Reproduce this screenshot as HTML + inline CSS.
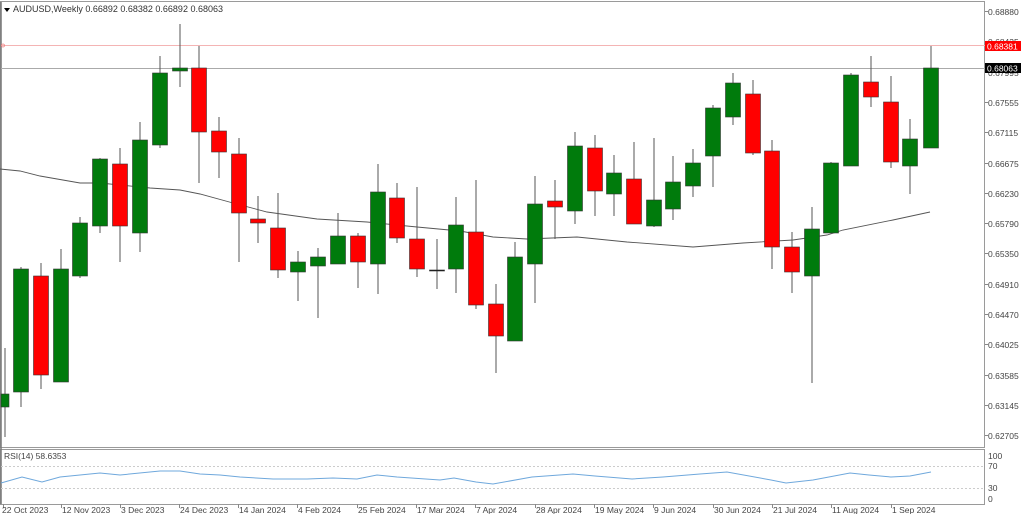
<!DOCTYPE html>
<html><head><meta charset="utf-8"><style>
html,body{margin:0;padding:0;background:#fff;}
svg{display:block;font-family:"Liberation Sans",Tahoma,sans-serif;}
</style></head><body>
<svg width="1024" height="514" viewBox="0 0 1024 514" xmlns="http://www.w3.org/2000/svg">
<rect width="1024" height="514" fill="#fff"/>
<rect x="0.5" y="1.5" width="984" height="446" fill="none" stroke="#9a9a9a" stroke-width="1"/>
<rect x="0.5" y="449.5" width="984" height="55" fill="none" stroke="#9a9a9a" stroke-width="1"/>
<line x1="1" y1="2" x2="1" y2="504" stroke="#777" stroke-width="1.5"/>
<path d="M4 8 L10 8 L7 12 Z" fill="#000"/>
<text x="13" y="12" font-size="9" fill="#333">AUDUSD,Weekly  0.66892 0.68382 0.66892 0.68063</text>
<line x1="1" y1="45.5" x2="985" y2="45.5" stroke="#f4b4b4" stroke-width="1"/>
<circle cx="3" cy="45.5" r="1.5" fill="none" stroke="#f08080" stroke-width="0.7"/>
<line x1="1" y1="68.5" x2="985" y2="68.5" stroke="#aaa" stroke-width="1"/>
<polyline fill="none" stroke="#555" stroke-width="0.9" points="0,169 20,171 40,176 80,183 100,183 150,188 180,190 200,194 233,203 267,212 317,219 367,222 417,227 460,231 493,237 527,239 577,237 627,242 693,247 743,243 793,240 827,235 843,230 893,220 930,212"/>
<g stroke="#555" stroke-width="1">
<line x1="5" y1="348" x2="5" y2="437"/>
<line x1="21" y1="267" x2="21" y2="407"/>
<line x1="41" y1="263" x2="41" y2="389"/>
<line x1="61" y1="249" x2="61" y2="382"/>
<line x1="80" y1="217" x2="80" y2="278"/>
<line x1="100" y1="158" x2="100" y2="233"/>
<line x1="120" y1="148" x2="120" y2="262"/>
<line x1="140" y1="122" x2="140" y2="252"/>
<line x1="160" y1="56" x2="160" y2="148"/>
<line x1="180" y1="24" x2="180" y2="87"/>
<line x1="199" y1="46" x2="199" y2="183"/>
<line x1="219" y1="117" x2="219" y2="178"/>
<line x1="239" y1="138" x2="239" y2="262"/>
<line x1="258" y1="196" x2="258" y2="243"/>
<line x1="278" y1="193" x2="278" y2="278"/>
<line x1="298" y1="251" x2="298" y2="301"/>
<line x1="318" y1="248" x2="318" y2="318"/>
<line x1="338" y1="213" x2="338" y2="264"/>
<line x1="358" y1="233" x2="358" y2="288"/>
<line x1="378" y1="164" x2="378" y2="294"/>
<line x1="397" y1="183" x2="397" y2="243"/>
<line x1="417" y1="187" x2="417" y2="277"/>
<line x1="437" y1="239" x2="437" y2="289"/>
<line x1="456" y1="197" x2="456" y2="293"/>
<line x1="476" y1="180" x2="476" y2="309"/>
<line x1="496" y1="284" x2="496" y2="373"/>
<line x1="515" y1="242" x2="515" y2="341"/>
<line x1="535" y1="176" x2="535" y2="303"/>
<line x1="555" y1="180" x2="555" y2="239"/>
<line x1="575" y1="132" x2="575" y2="224"/>
<line x1="595" y1="135" x2="595" y2="216"/>
<line x1="614" y1="155" x2="614" y2="216"/>
<line x1="634" y1="142" x2="634" y2="224"/>
<line x1="654" y1="138" x2="654" y2="227"/>
<line x1="673" y1="156" x2="673" y2="220"/>
<line x1="693" y1="149" x2="693" y2="197"/>
<line x1="713" y1="105" x2="713" y2="187"/>
<line x1="733" y1="73" x2="733" y2="125"/>
<line x1="753" y1="80" x2="753" y2="155"/>
<line x1="772" y1="140" x2="772" y2="269"/>
<line x1="792" y1="232" x2="792" y2="293"/>
<line x1="812" y1="207" x2="812" y2="383"/>
<line x1="831" y1="162" x2="831" y2="233"/>
<line x1="851" y1="73" x2="851" y2="166"/>
<line x1="871" y1="56" x2="871" y2="107"/>
<line x1="891" y1="76" x2="891" y2="168"/>
<line x1="910" y1="119" x2="910" y2="194"/>
<line x1="931" y1="46" x2="931" y2="148"/>
</g>
<g stroke="#333" stroke-width="0.6">
<rect x="1" y="394" width="8" height="13" fill="#007b0c"/>
<rect x="13.5" y="269" width="15" height="123" fill="#007b0c"/>
<rect x="33.5" y="276" width="15" height="99" fill="#ff0000"/>
<rect x="53.5" y="269" width="15" height="113" fill="#007b0c"/>
<rect x="72.5" y="223" width="15" height="53" fill="#007b0c"/>
<rect x="92.5" y="159" width="15" height="67" fill="#007b0c"/>
<rect x="112.5" y="164" width="15" height="62" fill="#ff0000"/>
<rect x="132.5" y="140" width="15" height="93" fill="#007b0c"/>
<rect x="152.5" y="73" width="15" height="72" fill="#007b0c"/>
<rect x="172.5" y="68" width="15" height="3" fill="#007b0c"/>
<rect x="191.5" y="68" width="15" height="64" fill="#ff0000"/>
<rect x="211.5" y="131" width="15" height="21" fill="#ff0000"/>
<rect x="231.5" y="154" width="15" height="59" fill="#ff0000"/>
<rect x="250.5" y="219" width="15" height="4" fill="#ff0000"/>
<rect x="270.5" y="228" width="15" height="42" fill="#ff0000"/>
<rect x="290.5" y="262" width="15" height="10" fill="#007b0c"/>
<rect x="310.5" y="257" width="15" height="9" fill="#007b0c"/>
<rect x="330.5" y="236" width="15" height="28" fill="#007b0c"/>
<rect x="350.5" y="236" width="15" height="26" fill="#ff0000"/>
<rect x="370.5" y="192" width="15" height="72" fill="#007b0c"/>
<rect x="389.5" y="198" width="15" height="40" fill="#ff0000"/>
<rect x="409.5" y="239" width="15" height="30" fill="#ff0000"/>
<rect x="429.5" y="270" width="15" height="1" fill="#000"/>
<rect x="448.5" y="225" width="15" height="44" fill="#007b0c"/>
<rect x="468.5" y="232" width="15" height="73" fill="#ff0000"/>
<rect x="488.5" y="304" width="15" height="32" fill="#ff0000"/>
<rect x="507.5" y="257" width="15" height="84" fill="#007b0c"/>
<rect x="527.5" y="204" width="15" height="60" fill="#007b0c"/>
<rect x="547.5" y="201" width="15" height="6" fill="#ff0000"/>
<rect x="567.5" y="146" width="15" height="65" fill="#007b0c"/>
<rect x="587.5" y="148" width="15" height="43" fill="#ff0000"/>
<rect x="606.5" y="173" width="15" height="21" fill="#007b0c"/>
<rect x="626.5" y="179" width="15" height="45" fill="#ff0000"/>
<rect x="646.5" y="200" width="15" height="26" fill="#007b0c"/>
<rect x="665.5" y="182" width="15" height="27" fill="#007b0c"/>
<rect x="685.5" y="163" width="15" height="23" fill="#007b0c"/>
<rect x="705.5" y="108" width="15" height="48" fill="#007b0c"/>
<rect x="725.5" y="83" width="15" height="34" fill="#007b0c"/>
<rect x="745.5" y="94" width="15" height="59" fill="#ff0000"/>
<rect x="764.5" y="151" width="15" height="96" fill="#ff0000"/>
<rect x="784.5" y="247" width="15" height="25" fill="#ff0000"/>
<rect x="804.5" y="229" width="15" height="47" fill="#007b0c"/>
<rect x="823.5" y="163" width="15" height="70" fill="#007b0c"/>
<rect x="843.5" y="75" width="15" height="91" fill="#007b0c"/>
<rect x="863.5" y="82" width="15" height="15" fill="#ff0000"/>
<rect x="883.5" y="102" width="15" height="60" fill="#ff0000"/>
<rect x="902.5" y="139" width="15" height="27" fill="#007b0c"/>
<rect x="923.5" y="68" width="15" height="80" fill="#007b0c"/>
</g>
<g font-size="8.5" fill="#444">
<text x="988" y="15">0.68880</text>
<text x="988" y="45">0.68435</text>
<text x="988" y="76">0.67995</text>
<text x="988" y="106">0.67555</text>
<text x="988" y="136">0.67115</text>
<text x="988" y="167">0.66675</text>
<text x="988" y="197">0.66230</text>
<text x="988" y="227">0.65790</text>
<text x="988" y="257">0.65350</text>
<text x="988" y="288">0.64910</text>
<text x="988" y="318">0.64470</text>
<text x="988" y="348">0.64025</text>
<text x="988" y="379">0.63585</text>
<text x="988" y="409">0.63145</text>
<text x="988" y="439">0.62705</text>
</g>
<g stroke="#888" stroke-width="1">
<line x1="985" y1="11.5" x2="988" y2="11.5"/><line x1="985" y1="41.5" x2="988" y2="41.5"/><line x1="985" y1="72.5" x2="988" y2="72.5"/><line x1="985" y1="102.5" x2="988" y2="102.5"/><line x1="985" y1="132.5" x2="988" y2="132.5"/><line x1="985" y1="163.5" x2="988" y2="163.5"/><line x1="985" y1="193.5" x2="988" y2="193.5"/><line x1="985" y1="223.5" x2="988" y2="223.5"/><line x1="985" y1="253.5" x2="988" y2="253.5"/><line x1="985" y1="284.5" x2="988" y2="284.5"/><line x1="985" y1="314.5" x2="988" y2="314.5"/><line x1="985" y1="344.5" x2="988" y2="344.5"/><line x1="985" y1="375.5" x2="988" y2="375.5"/><line x1="985" y1="405.5" x2="988" y2="405.5"/><line x1="985" y1="435.5" x2="988" y2="435.5"/>
</g>
<rect x="985" y="41" width="36" height="10" fill="#ff0000"/>
<text x="987" y="49.5" font-size="8.5" fill="#fff">0.68381</text>
<rect x="985" y="63" width="36" height="10" fill="#000"/>
<text x="987" y="71.5" font-size="8.5" fill="#fff">0.68063</text>
<text x="4" y="459" font-size="8.5" fill="#444">RSI(14) 58.6353</text>
<line x1="1" y1="466.5" x2="985" y2="466.5" stroke="#ccc" stroke-dasharray="2,2"/>
<line x1="1" y1="488.5" x2="985" y2="488.5" stroke="#ccc" stroke-dasharray="2,2"/>
<polyline fill="none" stroke="#6fa8dc" stroke-width="1" points="1,483 22,477 42,482 60,477 100,473 120,475 160,471 180,471 200,474 220,475 240,477 273,479 307,479 333,478 357,479 377,475 397,477 440,480 454,478 476,482 493,484 532,477 573,474 595,476 632,479 663,477 700,474 727,472 771,480 786,483 813,480 850,473 869,475 891,477 910,476 931,472"/>
<g font-size="8.5" fill="#444">
<text x="988" y="459">100</text>
<text x="988" y="469">70</text>
<text x="988" y="491">30</text>
<text x="988" y="502">0</text>
</g>
<g stroke="#888"><line x1="3.5" y1="504" x2="3.5" y2="508"/><line x1="61.5" y1="504" x2="61.5" y2="508"/><line x1="120.5" y1="504" x2="120.5" y2="508"/><line x1="179.5" y1="504" x2="179.5" y2="508"/><line x1="238.5" y1="504" x2="238.5" y2="508"/><line x1="297.5" y1="504" x2="297.5" y2="508"/><line x1="357.5" y1="504" x2="357.5" y2="508"/><line x1="416.5" y1="504" x2="416.5" y2="508"/><line x1="475.5" y1="504" x2="475.5" y2="508"/><line x1="535.5" y1="504" x2="535.5" y2="508"/><line x1="594.5" y1="504" x2="594.5" y2="508"/><line x1="653.5" y1="504" x2="653.5" y2="508"/><line x1="713.5" y1="504" x2="713.5" y2="508"/><line x1="772.5" y1="504" x2="772.5" y2="508"/><line x1="831.5" y1="504" x2="831.5" y2="508"/><line x1="891.5" y1="504" x2="891.5" y2="508"/></g>
<g font-size="8.5" fill="#444">
<text x="2" y="513">22 Oct 2023</text>
<text x="62" y="513">12 Nov 2023</text>
<text x="121" y="513">3 Dec 2023</text>
<text x="180" y="513">24 Dec 2023</text>
<text x="239" y="513">14 Jan 2024</text>
<text x="298" y="513">4 Feb 2024</text>
<text x="358" y="513">25 Feb 2024</text>
<text x="417" y="513">17 Mar 2024</text>
<text x="476" y="513">7 Apr 2024</text>
<text x="536" y="513">28 Apr 2024</text>
<text x="595" y="513">19 May 2024</text>
<text x="654" y="513">9 Jun 2024</text>
<text x="714" y="513">30 Jun 2024</text>
<text x="773" y="513">21 Jul 2024</text>
<text x="832" y="513">11 Aug 2024</text>
<text x="892" y="513">1 Sep 2024</text>
</g>
</svg>
</body></html>
